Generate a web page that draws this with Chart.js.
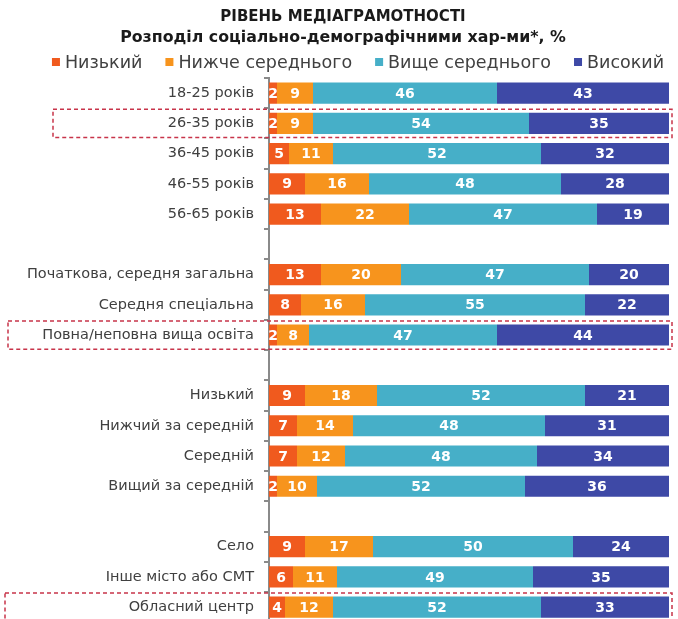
<!DOCTYPE html>
<html>
<head>
<meta charset="utf-8">
<script src="https://cdn.jsdelivr.net/npm/chart.js@4.4.1/dist/chart.umd.min.js"></script>
<style>
  html, body { margin: 0; padding: 0; background: #ffffff; overflow: hidden; }
  canvas { display: block; }
</style>
</head>
<body>
<canvas id="c" width="678" height="641"></canvas>
<script>
const titleText = 'РІВЕНЬ МЕДІАГРАМОТНОСТІ';
const subtitleText = 'Розподіл соціально-демографічними хар-ми*, %';
const seriesNames = ['Низький', 'Нижче середнього', 'Вище середнього', 'Високий'];
const categories = [
  '18-25 років', '26-35 років', '36-45 років', '46-55 років', '56-65 років', '',
  'Початкова, середня загальна', 'Середня спеціальна', 'Повна/неповна вища освіта', '',
  'Низький', 'Нижчий за середній', 'Середній', 'Вищий за середній', '',
  'Село', 'Інше місто або СМТ', 'Обласний центр'
];
const lowValues       = [2, 2, 5, 9, 13, null, 13, 8, 2, null, 9, 7, 7, 2, null, 9, 6, 4];
const belowAvgValues  = [9, 9, 11, 16, 22, null, 20, 16, 8, null, 18, 14, 12, 10, null, 17, 11, 12];
const aboveAvgValues  = [46, 54, 52, 48, 47, null, 47, 55, 47, null, 52, 48, 48, 52, null, 50, 49, 52];
const highValues      = [43, 35, 32, 28, 19, null, 20, 22, 44, null, 21, 31, 34, 36, null, 24, 35, 33];
const highlighted = ['26-35 років', 'Повна/неповна вища освіта', 'Обласний центр'];

const colors = ['#F05A1E', '#F7941D', '#46AFC8', '#3E49A6'];
const FONT = "'DejaVu Sans', 'Open Sans', sans-serif";

const valueLabels = {
  id: 'valueLabels',
  afterDatasetsDraw(chart) {
    const ctx = chart.ctx;
    ctx.save();
    ctx.fillStyle = '#ffffff';
    ctx.font = 'bold 14px ' + FONT;
    ctx.textAlign = 'center';
    ctx.textBaseline = 'middle';
    chart.data.datasets.forEach((ds, di) => {
      const meta = chart.getDatasetMeta(di);
      meta.data.forEach((bar, i) => {
        const v = ds.data[i];
        if (v === null || v === undefined) return;
        const right = Math.min(bar.x, chart.chartArea.right);
        const cx = (right + bar.base) / 2;
        ctx.fillText(String(v), cx, bar.y + 1);
      });
    });
    ctx.restore();
  }
};

const boxLefts = [53, 8, 5];
const dashedBoxes = {
  id: 'dashedBoxes',
  afterDraw(chart) {
    const ctx = chart.ctx;
    const y = chart.scales.y;
    const step = y.getPixelForValue(1) - y.getPixelForValue(0);
    ctx.save();
    ctx.strokeStyle = '#C8344A';
    ctx.lineWidth = 1.5;
    ctx.setLineDash([4, 3]);
    highlighted.forEach((name, k) => {
      const idx = categories.indexOf(name);
      const cy = y.getPixelForValue(idx);
      const top = cy - step / 2 + 1;
      ctx.strokeRect(boxLefts[k], top, 672 - boxLefts[k], step - 2);
    });
    ctx.restore();
  }
};

const header = {
  id: 'header',
  afterDraw(chart) {
    const ctx = chart.ctx;
    ctx.save();
    ctx.textBaseline = 'middle';
    ctx.textAlign = 'center';
    ctx.fillStyle = '#1a1a1a';
    ctx.font = 'bold 15px ' + FONT;
    ctx.fillText(titleText, 343, 17);
    ctx.font = 'bold 15.8px ' + FONT;
    ctx.fillText(subtitleText, 343, 38);
    // legend
    ctx.font = '17.5px ' + FONT;
    ctx.textAlign = 'left';
    const box = 8, gapText = 5, gapItem = 23;
    const widths = seriesNames.map(n => ctx.measureText(n).width);
    const total = widths.reduce((a, w) => a + box + gapText + w, 0) + gapItem * (seriesNames.length - 1);
    let x = 358 - total / 2;
    const ly = 62;
    seriesNames.forEach((n, i) => {
      ctx.fillStyle = colors[i];
      ctx.fillRect(x, ly - box / 2, box, box);
      x += box + gapText;
      ctx.fillStyle = '#404040';
      ctx.fillText(n, x, ly + 1);
      x += widths[i] + gapItem;
    });
    ctx.restore();
  }
};

new Chart(document.getElementById('c'), {
  type: 'bar',
  data: {
    labels: categories,
    datasets: [lowValues, belowAvgValues, aboveAvgValues, highValues].map((d, i) => ({
      label: seriesNames[i],
      data: d,
      backgroundColor: colors[i],
      borderWidth: 0,
      barPercentage: 0.7,
      categoryPercentage: 1.0
    }))
  },
  options: {
    indexAxis: 'y',
    responsive: false,
    animation: false,
    layout: { padding: { left: 20, right: 9, top: 78, bottom: 0 } },
    scales: {
      x: { stacked: true, min: 0, max: 100, display: false },
      y: {
        stacked: true,
        afterFit(scale) { scale.width = 249; },
        border: { display: true, color: '#8a8a8a', width: 2 },
        grid: { offset: true, drawOnChartArea: false, drawTicks: true, tickLength: 5, color: '#8a8a8a', lineWidth: 2 },
        ticks: { color: '#404040', font: { family: FONT, size: 14.5 }, padding: 10, autoSkip: false }
      }
    },
    plugins: {
      title: { display: false },
      subtitle: { display: false },
      legend: { display: false },
      tooltip: { enabled: false }
    }
  },
  plugins: [valueLabels, dashedBoxes, header]
});
</script>
</body>
</html>
